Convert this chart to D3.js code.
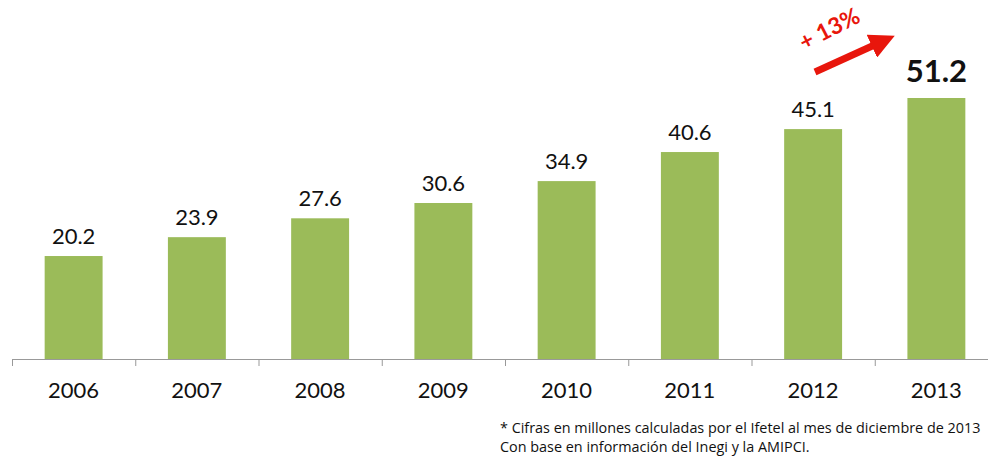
<!DOCTYPE html>
<html><head><meta charset="utf-8">
<script src="https://cdn.jsdelivr.net/npm/d3@7"></script>
<style>body{margin:0;background:#fff;overflow:hidden}svg{display:block}</style>
</head><body>
<svg id="c" width="988" height="460"></svg>
<script>
const years = ["2006","2007","2008","2009","2010","2011","2012","2013"];
const values = [20.2, 23.9, 27.6, 30.6, 34.9, 40.6, 45.1, 51.2];
const valueLabels = ["20.2","23.9","27.6","30.6","34.9","40.6","45.1","51.2"];
const growthLabel = "+ 13%";
const notes = ["* Cifras en millones calculadas por el Ifetel al mes de diciembre de 2013",
               "Con base en información del Inegi y la AMIPCI."];

const svg = d3.select("#c");
const font = "Lato, 'Open Sans', sans-serif";
const x = d3.scaleBand().domain(years).range([12, 998]).paddingInner(0.53).paddingOuter(0.265);
const y = d3.scaleLinear().domain([0, 51.2]).range([359, 98]);

svg.selectAll("rect.bar").data(values).join("rect")
  .attr("x", (d,i) => x(years[i]))
  .attr("width", x.bandwidth())
  .attr("y", d => y(d))
  .attr("height", d => y(0) - y(d))
  .attr("fill", "#9BBB59");

// axis
const step = x.step();
svg.append("line").attr("x1", 12).attr("x2", 998).attr("y1", 359.5).attr("y2", 359.5)
  .attr("stroke", "#999").attr("stroke-width", 1);
svg.selectAll("line.tick").data(d3.range(years.length + 1)).join("line")
  .attr("x1", i => 12.5 + i*step).attr("x2", i => 12.5 + i*step)
  .attr("y1", 359).attr("y2", 366).attr("stroke", "#999");

svg.selectAll("text.yr").data(years).join("text")
  .attr("x", d => x(d) + x.bandwidth()/2).attr("y", 398)
  .attr("text-anchor", "middle").attr("font-family", font).attr("font-size", 22)
  .attr("fill", "#111").text(d => d);

svg.selectAll("text.val").data(values).join("text")
  .attr("x", (d,i) => x(years[i]) + x.bandwidth()/2)
  .attr("y", (d,i) => i === values.length-1 ? y(d) - 16 : y(d) - 12)
  .attr("text-anchor", "middle").attr("font-family", font)
  .attr("font-size", (d,i) => i === values.length-1 ? 31 : 22)
  .attr("font-weight", (d,i) => i === values.length-1 ? "bold" : "normal")
  .attr("fill", "#111").text((d,i) => valueLabels[i]);

// growth arrow
svg.append("defs").append("marker").attr("id","ah").attr("viewBox","0 0 10 10")
  .attr("refX", 4).attr("refY", 5).attr("markerWidth", 3.6).attr("markerHeight", 3.6)
  .attr("markerUnits","strokeWidth")
  .attr("orient", "auto").append("path").attr("d","M0,0L10,5L0,10z").attr("fill","#E8160C");
svg.append("line").attr("x1", 815).attr("y1", 72).attr("x2", 881).attr("y2", 42)
  .attr("stroke", "#E8160C").attr("stroke-width", 7).attr("marker-end", "url(#ah)");
svg.append("text").attr("transform", "translate(833,36) rotate(-27)")
  .attr("text-anchor", "middle").attr("font-family", font).attr("font-size", 23)
  .attr("font-weight", "bold").attr("fill", "#E8160C").text(growthLabel);

svg.selectAll("text.note").data(notes).join("text")
  .attr("x", 500).attr("y", (d,i) => 433 + i*19)
  .attr("font-family", "'Open Sans', sans-serif").attr("font-size", 14.4).attr("fill", "#111").text(d => d);
</script>
</body></html>
